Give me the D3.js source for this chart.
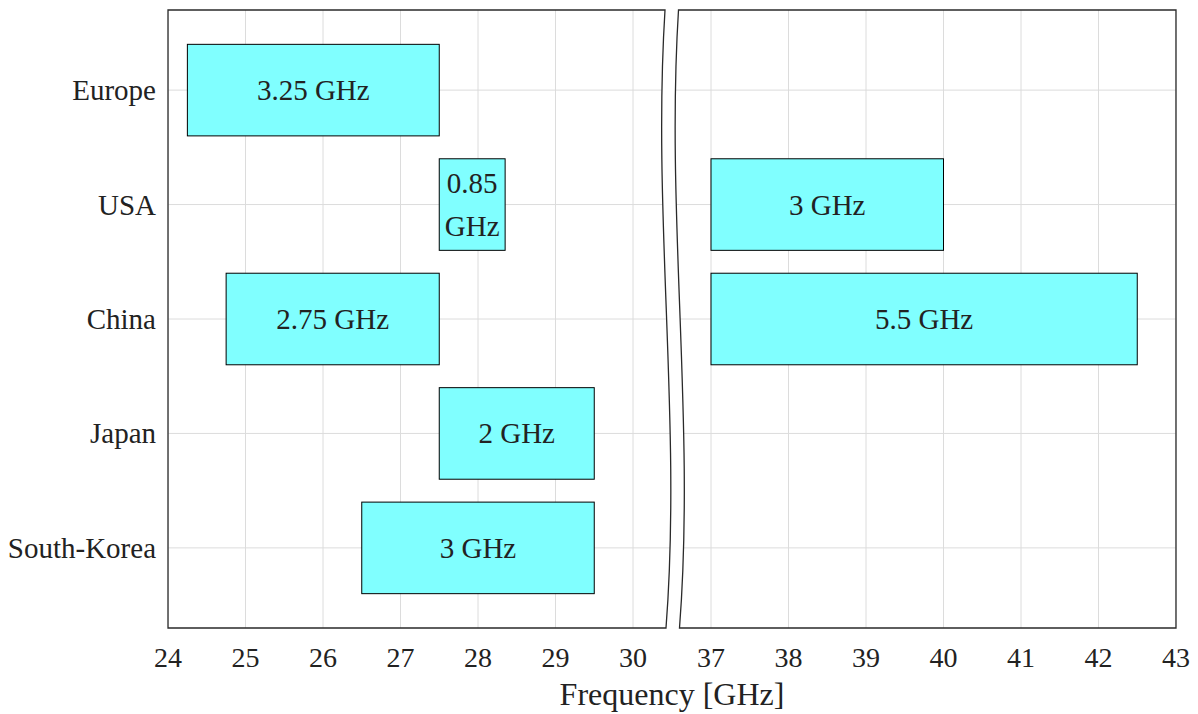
<!DOCTYPE html>
<html>
<head>
<meta charset="utf-8">
<script src="https://cdn.jsdelivr.net/npm/d3@7"></script>
<style>
  html, body { margin: 0; padding: 0; background: #fff; }
  svg { display: block; }
  text { font-family: "Liberation Serif", "Times New Roman", serif; fill: #222; }
</style>
</head>
<body>
<svg id="chart" width="1198" height="714"></svg>
<script>
// Spectrum allocations (GHz) per region
const categories = ["Europe", "USA", "China", "Japan", "South-Korea"];
const bandRegion = ["Europe", "USA", "USA", "China", "China", "Japan", "South-Korea"];
const bandLow    = [24.25, 27.5, 37, 24.75, 37, 27.5, 26.5];
const bandHigh   = [27.5, 28.35, 40, 27.5, 42.5, 29.5, 29.5];
const leftTicks  = [24, 25, 26, 27, 28, 29, 30];
const rightTicks = [37, 38, 39, 40, 41, 42, 43];
const xTitle = "Frequency [GHz]";

const svg = d3.select("#chart");
const plotTop = 10, plotBottom = 628, plotLeft = 168, plotRight = 1176;
const tickSize = 28, labelSize = 29, titleSize = 32;

// Two x segments with a broken axis between them
const xL = d3.scaleLinear().domain([24, 30]).range([168, 633]);
const xR = d3.scaleLinear().domain([37, 43]).range([711, 1176]);

// Category positions, Europe on top
const yScale = d3.scaleLinear().domain([-0.7, categories.length - 1 + 0.7]).range([plotTop, plotBottom]);
const barH = yScale(0.4) - yScale(-0.4);

// Wavy break edges (cubic curves) for the left and right panels
const gap = 13.5;
function breakCurve(dx) {
  const p1 = [652 + dx, 216], p2 = [682 + dx, 422], p3 = [666 + dx, plotBottom];
  return `C${p1} ${p2} ${p3}`;
}
const leftShape = `M${plotLeft},${plotTop}L${665},${plotTop}` + breakCurve(0) + `L${plotLeft},${plotBottom}Z`;
const rightShape = `M${plotRight},${plotTop}L${665 + gap},${plotTop}` + breakCurve(gap) + `L${plotRight},${plotBottom}Z`;

const defs = svg.append("defs");
defs.append("clipPath").attr("id", "clipL").append("path").attr("d", leftShape);
defs.append("clipPath").attr("id", "clipR").append("path").attr("d", rightShape);

const panels = [
  { x: xL, ticks: leftTicks, clip: "clipL", shape: leftShape, x0: plotLeft, x1: 690, side: "L" },
  { x: xR, ticks: rightTicks, clip: "clipR", shape: rightShape, x0: 650, x1: plotRight, side: "R" }
];

panels.forEach(p => {
  const g = svg.append("g").attr("clip-path", `url(#${p.clip})`);
  // vertical grid
  g.selectAll("line.vg").data(p.ticks).join("line").attr("class", "vg")
    .attr("x1", d => p.x(d)).attr("x2", d => p.x(d))
    .attr("y1", plotTop).attr("y2", plotBottom)
    .attr("stroke", "#dcdcdc").attr("stroke-width", 1);
  // horizontal grid
  g.selectAll("line.hg").data(categories).join("line").attr("class", "hg")
    .attr("x1", p.x0).attr("x2", p.x1)
    .attr("y1", d => yScale(categories.indexOf(d))).attr("y2", d => yScale(categories.indexOf(d)))
    .attr("stroke", "#dcdcdc").attr("stroke-width", 1);

  // bars in this panel
  const idx = d3.range(bandLow.length).filter(i => p.side === "L" ? bandLow[i] < 33 : bandLow[i] >= 33);
  const bars = g.selectAll("g.bar").data(idx).join("g").attr("class", "bar");
  bars.append("rect")
    .attr("x", i => p.x(bandLow[i]))
    .attr("width", i => p.x(bandHigh[i]) - p.x(bandLow[i]))
    .attr("y", i => yScale(categories.indexOf(bandRegion[i])) - barH / 2)
    .attr("height", barH)
    .attr("fill", "#80ffff").attr("stroke", "#000").attr("stroke-width", 1);

  bars.each(function(i) {
    const w = p.x(bandHigh[i]) - p.x(bandLow[i]);
    const cx = (p.x(bandLow[i]) + p.x(bandHigh[i])) / 2;
    const cy = yScale(categories.indexOf(bandRegion[i]));
    const label = (+(bandHigh[i] - bandLow[i]).toFixed(2)) + " GHz";
    const t = d3.select(this).append("text")
      .attr("text-anchor", "middle").attr("font-size", labelSize).attr("x", cx);
    t.text(label);
    if (t.node().getComputedTextLength() > w - 6) {
      t.text(null);
      const words = label.split(" ");
      const lh = 43;
      words.forEach((wd, k) => {
        t.append("tspan").attr("x", cx)
          .attr("y", cy + 10 + (k - (words.length - 1) / 2) * lh)
          .text(wd);
      });
    } else {
      t.attr("y", cy + 10);
    }
  });

  // tick labels
  svg.append("g").selectAll("text").data(p.ticks).join("text")
    .attr("x", d => p.x(d)).attr("y", 667)
    .attr("text-anchor", "middle").attr("font-size", tickSize)
    .text(d => d);

  // frame
  svg.append("path").attr("d", p.shape)
    .attr("fill", "none").attr("stroke", "#2a2a2a").attr("stroke-width", 1.3);
});

// category labels
svg.append("g").selectAll("text").data(categories).join("text")
  .attr("x", 156).attr("y", d => yScale(categories.indexOf(d)) + 10)
  .attr("text-anchor", "end").attr("font-size", labelSize)
  .text(d => d);

// x-axis title
svg.append("text")
  .attr("x", (plotLeft + plotRight) / 2).attr("y", 705)
  .attr("text-anchor", "middle").attr("font-size", titleSize)
  .text(xTitle);
</script>
</body>
</html>
